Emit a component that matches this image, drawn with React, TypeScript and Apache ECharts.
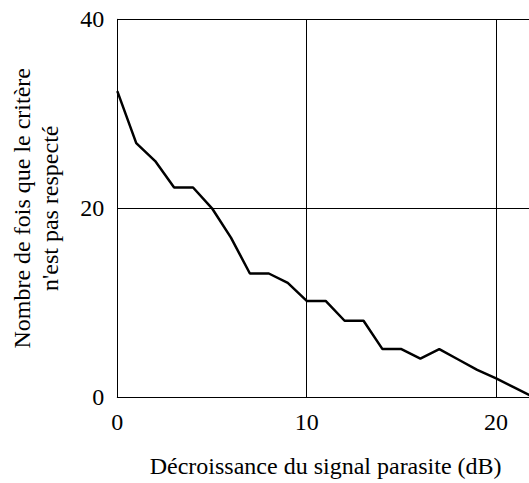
import React, { useEffect, useRef } from "react";
import * as echarts from "echarts";

const xValues = [0, 1, 2, 3, 4, 5, 6, 7, 8, 9, 10, 11, 12, 13, 14, 15, 16, 17, 18, 19, 20, 21, 22];
const yValues = [32.4, 26.9, 25.0, 22.2, 22.2, 20.0, 16.9, 13.1, 13.1, 12.1, 10.2, 10.2, 8.1, 8.1, 5.1, 5.1, 4.1, 5.1, 4.0, 2.9, 2.0, 1.0, 0];
const xTickValues = [0, 10, 20];
const yTickValues = [0, 20, 40];
const xName = "Décroissance du signal parasite (dB)";
const yName = "Nombre de fois que le critère\nn'est pas respecté";

export default function App() {
  const ref = useRef<HTMLDivElement>(null);
  useEffect(() => {
    document.body.style.margin = "0";
    document.body.style.overflow = "hidden";
    if (!ref.current) return;
    const chart = echarts.init(ref.current, null, { renderer: "svg" });
    const font = "'Liberation Serif', 'Times New Roman', serif";
    chart.setOption({
      animation: false,
      grid: { left: 117.3, top: 19.3, bottom: 85.7, right: -5, containLabel: false, outerBoundsMode: "none" },
      xAxis: {
        type: "value",
        min: 0,
        max: 22,
        interval: 10,
        name: xName,
        nameLocation: "middle",
        nameGap: 57,
        nameTextStyle: { fontFamily: font, fontSize: 24, color: "#000" },
        axisLine: { show: true, onZero: false, lineStyle: { color: "#000", width: 1 } },
        axisTick: { show: false },
        axisLabel: {
          showMaxLabel: false,
          margin: 13,
          fontFamily: font,
          fontSize: 24,
          color: "#000",
          formatter: (v: number) => (xTickValues.includes(v) ? String(v) : ""),
        },
        splitLine: { show: true, lineStyle: { color: "#000", width: 1 } },
      },
      yAxis: {
        type: "value",
        min: 0,
        max: 40,
        interval: 20,
        name: yName,
        nameLocation: "middle",
        nameGap: 53,
        nameRotate: 90,
        nameTextStyle: { fontFamily: font, fontSize: 24, color: "#000", lineHeight: 28 },
        axisLine: { show: true, lineStyle: { color: "#000", width: 1 } },
        axisTick: { show: false },
        axisLabel: {
          margin: 13,
          fontFamily: font,
          fontSize: 24,
          color: "#000",
          formatter: (v: number) => (yTickValues.includes(v) ? String(v) : ""),
        },
        splitLine: { show: true, lineStyle: { color: "#000", width: 1 } },
      },
      series: [
        {
          type: "line",
          data: xValues.map((x, i) => [x, yValues[i]]),
          showSymbol: false,
          symbol: "none",
          lineStyle: { color: "#000", width: 2.5 },
          clip: true,
        },
      ],
    });
    return () => chart.dispose();
  }, []);
  return <div ref={ref} style={{ width: 529, height: 483 }} />;
}
